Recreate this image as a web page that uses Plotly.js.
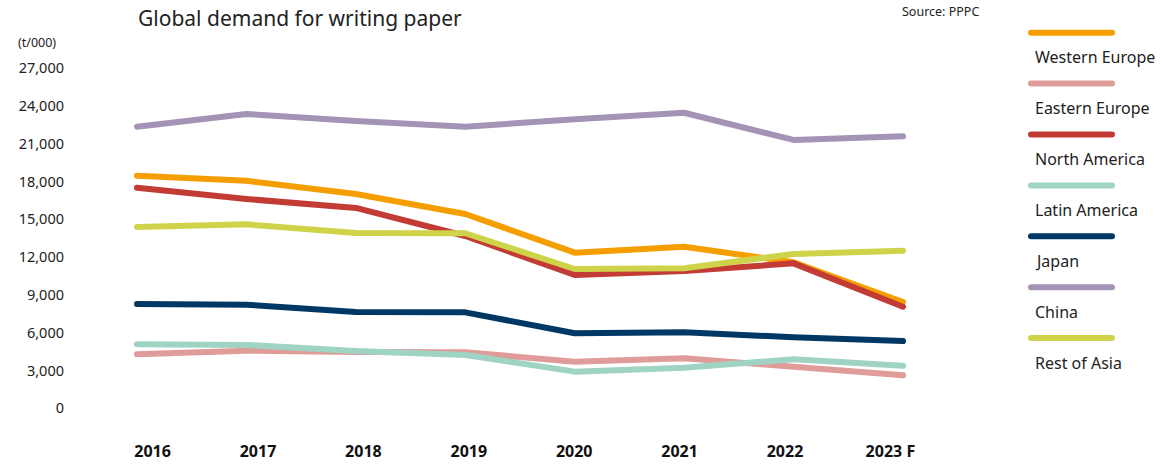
<!DOCTYPE html>
<html>
<head>
<meta charset="utf-8">
<script src="https://cdn.plot.ly/plotly-3.0.1.min.js"></script>
<style>
  html, body { margin: 0; padding: 0; background: #fff; }
  #chart { width: 1166px; height: 468px; }
  .scatterlayer path.js-line { stroke-linecap: round !important; stroke-linejoin: round !important; }
  .shapelayer path { stroke-linecap: round !important; }
</style>
</head>
<body>
<div id="chart"></div>
<script>
// ---- data ----
const categories = ["2016", "2017", "2018", "2019", "2020", "2021", "2022", "2023 F"];
const seriesNames = ["Western Europe", "Eastern Europe", "North America", "Latin America", "Japan", "China", "Rest of Asia"];
const westernEurope = [18470, 18070, 17020, 15430, 12360, 12830, 11600, 8440];
const easternEurope = [4290, 4570, 4470, 4450, 3700, 3970, 3300, 2620];
const northAmerica  = [17520, 16620, 15910, 13680, 10590, 10900, 11510, 8070];
const latinAmerica  = [5080, 5030, 4550, 4230, 2910, 3220, 3890, 3380];
const japan         = [8280, 8230, 7650, 7620, 5960, 6040, 5640, 5340];
const china         = [22360, 23370, 22810, 22360, 22950, 23470, 21310, 21600];
const restOfAsia    = [14400, 14610, 13920, 13900, 11060, 11120, 12250, 12510];
const yTickVals = [0, 3000, 6000, 9000, 12000, 15000, 18000, 21000, 24000, 27000];

// ---- styles ----
const colors = ["#F59E00", "#E09C99", "#C23B34", "#9FD3C4", "#003865", "#A393B5", "#CFD34A"];
const seriesValues = [westernEurope, easternEurope, northAmerica, latinAmerica, japan, china, restOfAsia];
const FONT = "Noto Sans, sans-serif";

// plot area in pixels
const L = 68, R = 940, T = 40, B = 438, W = 1166, H = 468;
const px = x => (x - L) / (R - L);
const py = y => (B - y) / (B - T);

const traces = seriesNames.map((name, i) => ({
  type: "scatter",
  mode: "lines",
  name: name,
  x: categories,
  y: seriesValues[i],
  line: { color: colors[i], width: 6 },
  hoverinfo: "skip"
}));
// empty trace so the tick-label axis (x2) is drawn; it has no visible marks
traces.push({
  type: "scatter", mode: "none", xaxis: "x2", yaxis: "y",
  x: categories.map((c, i) => i), y: categories.map(() => null),
  showlegend: false, hoverinfo: "skip"
});

const shapes = [];
const annotations = [];
seriesNames.forEach((name, i) => {
  const ly = 32.7 + 50.9 * i;
  shapes.push({
    type: "line", xref: "paper", yref: "paper",
    x0: px(1031), x1: px(1112), y0: py(ly), y1: py(ly),
    line: { color: colors[i], width: 6 }
  });
  annotations.push({
    xref: "paper", yref: "paper", x: px(1033), y: py(ly + 24.5),
    xanchor: "left", yanchor: "middle", showarrow: false,
    text: name, font: { family: FONT, size: 16, color: "#222" }
  });
});
annotations.push({
  xref: "paper", yref: "paper", x: px(16), y: py(42),
  xanchor: "left", yanchor: "middle", showarrow: false,
  text: "(t/000)", font: { family: FONT, size: 12.5, color: "#222" }
});
annotations.push({
  xref: "paper", yref: "paper", x: px(900), y: py(12),
  xanchor: "left", yanchor: "middle", showarrow: false,
  text: "Source: PPPC", font: { family: FONT, size: 12.5, color: "#222" }
});

const layout = {
  width: W, height: H,
  margin: { l: L, r: W - R, t: T, b: H - B, pad: 0 },
  paper_bgcolor: "#fff",
  plot_bgcolor: "#fff",
  showlegend: false,
  title: {
    text: "Global demand for writing paper",
    xref: "container", yref: "container",
    x: 138 / W, xanchor: "left",
    y: 1 - 19 / H, yanchor: "middle",
    font: { family: FONT, size: 21, color: "#222" }
  },
  xaxis: {
    type: "category",
    range: [-(137 - L) / 109.43, 7 + (R - 903) / 109.43],
    showticklabels: false, showgrid: false, zeroline: false, showline: false, ticks: ""
  },
  xaxis2: {
    type: "linear",
    overlaying: "x", side: "bottom", anchor: "y",
    range: [-(152.6 - L) / 105.4, 7 + (R - 890.4) / 105.4],
    tickmode: "array",
    tickvals: categories.map((c, i) => i),
    ticktext: categories,
    tickfont: { family: FONT, size: 16, color: "#111", weight: "bold" },
    showgrid: false, zeroline: false, showline: false, ticks: "",
    ticklabelstandoff: 2
  },
  yaxis: {
    range: [-(B - 408.3) / 12.593 * 1000, (408.3 - T) / 12.593 * 1000],
    tickmode: "array",
    tickvals: yTickVals,
    ticktext: yTickVals.map(v => v.toLocaleString("en-US")),
    tickfont: { family: FONT, size: 14.5, color: "#222" },
    showgrid: false, zeroline: false, showline: false, ticks: "",
    ticklabelstandoff: 3
  },
  shapes: shapes,
  annotations: annotations
};

Plotly.newPlot("chart", traces, layout, { displayModeBar: false, staticPlot: true });
</script>
</body>
</html>
